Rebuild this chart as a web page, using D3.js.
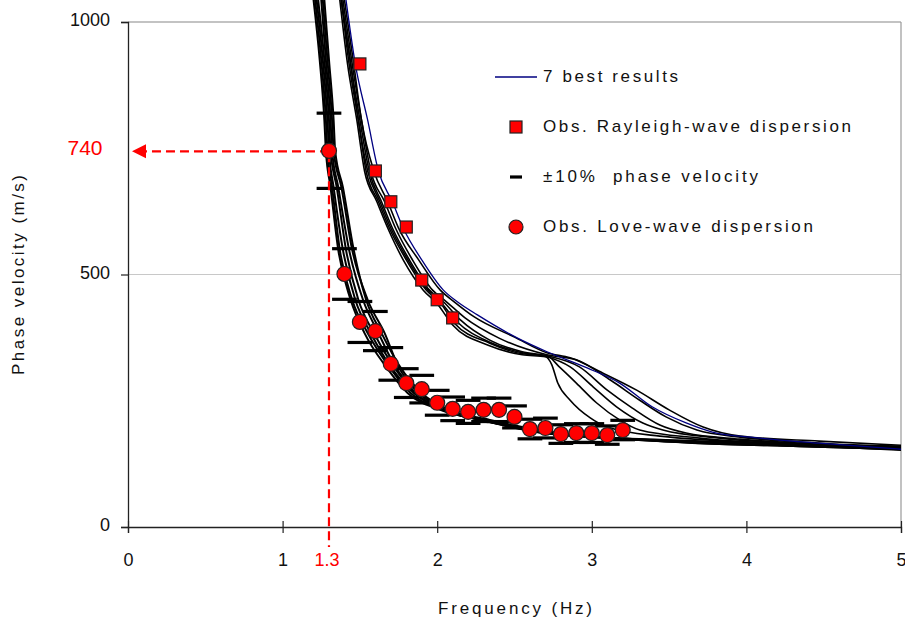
<!DOCTYPE html>
<html>
<head>
<meta charset="utf-8">
<script src="https://cdn.jsdelivr.net/npm/d3@7"></script>
<style>
  body { margin: 0; background: #fff; }
  text { font-family: "Liberation Sans", Arial, sans-serif; fill: #111; white-space: pre; }
</style>
</head>
<body>
<svg id="chart" width="905" height="624"></svg>
<script>
// observed dispersion (Hz, m/s)
const rayleighFreq = [1.5, 1.6, 1.7, 1.8, 1.9, 2.0, 2.1];
const rayleighVel = [917, 705, 644, 594, 489, 450, 414];
const loveFreq = [1.3, 1.4, 1.5, 1.6, 1.7, 1.8, 1.9, 2.0, 2.1, 2.2, 2.3, 2.4, 2.5, 2.6, 2.7, 2.8, 2.9, 3.0, 3.1, 3.2];
const loveVel = [745, 501, 406, 388, 323, 285, 273, 246, 234, 228, 232, 232, 218, 194, 196, 184, 186, 186, 182, 192];

// 7 best results, Rayleigh (last one is the blue curve)
const rayleighCurves = [
  [[1.37,1044],[1.42,917],[1.48,806],[1.53,705],[1.61,644],[1.68,592],[1.78,529],[1.91,469],[2.00,442],[2.10,400],[2.33,360],[2.55,341],[2.70,337],[2.74,322],[2.78,285],[2.86,251],[2.99,216],[3.10,198],[3.44,180],[4.22,166],[5.0,158]],
  [[1.38,1044],[1.43,917],[1.49,806],[1.54,705],[1.62,644],[1.69,592],[1.80,529],[1.93,469],[2.02,444],[2.11,404],[2.34,364],[2.55,343],[2.71,339],[2.79,317],[2.90,285],[3.03,246],[3.18,212],[3.31,192],[3.70,176],[4.47,160],[5.0,152]],
  [[1.38,1044],[1.44,917],[1.49,806],[1.55,705],[1.63,644],[1.70,592],[1.81,529],[1.94,469],[2.02,446],[2.13,406],[2.34,366],[2.55,345],[2.71,337],[2.86,317],[3.01,277],[3.16,238],[3.33,206],[3.46,192],[3.83,176],[4.47,162],[5.0,154]],
  [[1.38,1044],[1.44,917],[1.50,806],[1.56,705],[1.64,644],[1.71,592],[1.82,529],[1.95,469],[2.04,446],[2.15,410],[2.34,370],[2.55,347],[2.71,339],[2.92,317],[3.10,271],[3.26,236],[3.44,202],[3.61,186],[3.96,174],[4.47,164],[5.0,156]],
  [[1.39,1044],[1.45,917],[1.51,806],[1.57,705],[1.66,644],[1.73,592],[1.84,529],[1.97,469],[2.06,446],[2.18,414],[2.40,374],[2.71,341],[2.90,331],[3.12,291],[3.31,251],[3.48,218],[3.68,192],[3.96,178],[4.47,166],[5.0,158]],
  [[1.40,1044],[1.46,917],[1.51,806],[1.59,705],[1.68,644],[1.75,592],[1.88,529],[2.02,469],[2.11,446],[2.24,416],[2.50,376],[2.71,345],[2.86,335],[3.07,305],[3.29,271],[3.50,232],[3.72,198],[3.96,180],[4.47,170],[5.0,162]],
  [[1.41,1044],[1.47,917],[1.55,806],[1.62,705],[1.71,644],[1.78,592],[1.90,529],[2.04,469],[2.13,446],[2.26,420],[2.52,374],[2.71,347],[2.97,315],[3.18,285],[3.39,238],[3.61,206],[3.78,188],[4.09,176],[4.47,166],[5.0,154]]
];

// 7 best results, Love
const loveCurves = [
  [[1.20,1044],[1.24,925],[1.27,806],[1.28,745],[1.31,673],[1.36,549],[1.44,450],[1.53,384],[1.67,317],[1.81,265],[2.02,232],[2.28,212],[2.60,192],[3.05,178],[3.70,170],[4.34,164],[5.0,160]],
  [[1.21,1044],[1.25,925],[1.28,806],[1.29,745],[1.32,673],[1.37,549],[1.45,450],[1.55,384],[1.69,317],[1.83,265],[2.03,232],[2.29,212],[2.61,192],[3.06,178],[3.70,169],[4.34,163],[5.0,158]],
  [[1.22,1044],[1.26,925],[1.29,806],[1.30,745],[1.33,673],[1.39,549],[1.47,450],[1.57,384],[1.70,317],[1.85,265],[2.04,232],[2.30,212],[2.62,190],[3.08,177],[3.70,168],[4.34,162],[5.0,157]],
  [[1.23,1044],[1.27,925],[1.30,806],[1.31,745],[1.35,673],[1.41,549],[1.49,450],[1.59,384],[1.72,317],[1.86,265],[2.05,232],[2.31,210],[2.63,190],[3.09,177],[3.70,168],[4.34,161],[5.0,156]],
  [[1.25,1044],[1.28,925],[1.31,806],[1.32,745],[1.36,673],[1.43,549],[1.52,450],[1.62,384],[1.73,317],[1.88,265],[2.06,230],[2.32,210],[2.64,188],[3.10,176],[3.70,167],[4.34,161],[5.0,155]],
  [[1.26,1044],[1.29,925],[1.32,806],[1.33,745],[1.38,673],[1.45,549],[1.55,450],[1.66,384],[1.75,317],[1.89,265],[2.07,230],[2.33,210],[2.65,188],[3.11,176],[3.70,166],[4.34,160],[5.0,154]],
  [[1.27,1044],[1.30,925],[1.33,806],[1.34,745],[1.39,673],[1.46,549],[1.54,450],[1.64,384],[1.76,317],[1.90,265],[2.08,232],[2.34,212],[2.66,192],[3.12,176],[3.70,166],[4.34,160],[5.0,154]]
];

const xTicks = [0, 1, 2, 3, 4, 5];
const yTicks = [0, 500, 1000];
const pickFreq = 1.3;
const pickVel = 740;
const legendLabels = ["7 best results", "Obs. Rayleigh-wave dispersion", "\u00b110%  phase velocity", "Obs. Love-wave dispersion"];

const svg = d3.select("#chart");
const x = d3.scaleLinear().domain([0, 5]).range([128, 901]);
const y = d3.scaleLinear().domain([0, 1000]).range([527, 22]);

// frame + grid
svg.append("line").attr("x1", x(0)).attr("x2", x(5)).attr("y1", y(500)).attr("y2", y(500))
  .attr("stroke", "#c8c8c8").attr("stroke-width", 1);
svg.append("line").attr("x1", x(0)).attr("x2", x(5)).attr("y1", y(1000)).attr("y2", y(1000))
  .attr("stroke", "#888").attr("stroke-width", 1.2);
svg.append("line").attr("x1", x(5)).attr("x2", x(5)).attr("y1", y(1000)).attr("y2", y(0))
  .attr("stroke", "#999").attr("stroke-width", 1.2);

// axes
const yAxis = svg.append("g").attr("transform", `translate(${x(0)},0)`)
  .call(d3.axisLeft(y).tickValues(yTicks).tickSize(7).tickPadding(11).tickFormat(d3.format("d")));
const xAxis = svg.append("g").attr("transform", `translate(0,${y(0)})`)
  .call(d3.axisBottom(x).tickValues(xTicks).tickSize(6).tickPadding(20).tickFormat(d3.format("d")));
[xAxis, yAxis].forEach(a => {
  a.select(".domain").attr("stroke", "#222").attr("stroke-width", 1.3);
  a.selectAll(".tick line").attr("stroke", "#222").attr("stroke-width", 1.2);
  a.selectAll("text").attr("font-size", 18).attr("fill", "#111")
    .style("font-family", '"Liberation Sans", Arial, sans-serif');
});
xAxis.selectAll(".tick line").attr("y1", -6);
yAxis.selectAll(".tick text").attr("dy", "0.2em");

// curves
const line = d3.line().x(d => x(d[0])).y(d => y(d[1])).curve(d3.curveMonotoneX);
svg.append("g").selectAll("path").data(loveCurves).join("path")
  .attr("d", line).attr("fill", "none").attr("stroke", "#000").attr("stroke-width", 2);
svg.append("g").selectAll("path").data(rayleighCurves).join("path")
  .attr("d", line).attr("fill", "none")
  .attr("stroke", (d, i) => i === rayleighCurves.length - 1 ? "#000080" : "#000")
  .attr("stroke-width", (d, i) => i === rayleighCurves.length - 1 ? 1.3 : 1.6);

// +-10% bars on Love points
const bars = [];
loveFreq.forEach((f, i) => {
  bars.push([f, loveVel[i] * 1.1]);
  bars.push([f, loveVel[i] * 0.9]);
});
svg.append("g").selectAll("line").data(bars).join("line")
  .attr("x1", d => x(d[0] - 0.08)).attr("x2", d => x(d[0] + 0.08))
  .attr("y1", d => y(d[1])).attr("y2", d => y(d[1]))
  .attr("stroke", "#000").attr("stroke-width", 3.2);

// annotation for 1.3 Hz / 740 m/s
svg.append("line").attr("x1", x(pickFreq)).attr("x2", x(pickFreq))
  .attr("y1", y(pickVel)).attr("y2", y(0) + 20)
  .attr("stroke", "#ff0000").attr("stroke-width", 2.2).attr("stroke-dasharray", "9,5");
svg.append("line").attr("x1", x(pickFreq)).attr("x2", x(0) + 14)
  .attr("y1", y(pickVel) - 2).attr("y2", y(pickVel) - 2)
  .attr("stroke", "#ff0000").attr("stroke-width", 2.2).attr("stroke-dasharray", "9,5");
svg.append("path")
  .attr("d", `M${x(0) + 4},${y(pickVel) - 2} l14,-7 l0,14 z`)
  .attr("fill", "#ff0000");
svg.append("text").attr("x", 85).attr("y", y(pickVel) - 6).attr("dy", "0.35em")
  .attr("text-anchor", "middle").attr("font-size", 21).style("fill", "#ff0000").text(pickVel);
svg.append("text").attr("x", x(pickFreq) - 2).attr("y", 566)
  .attr("text-anchor", "middle").attr("font-size", 18).style("fill", "#ff0000").text(pickFreq);

// observed points
svg.append("g").selectAll("rect").data(rayleighFreq).join("rect")
  .attr("x", d => x(d) - 6).attr("y", (d, i) => y(rayleighVel[i]) - 6)
  .attr("width", 12).attr("height", 12)
  .attr("fill", "#ff0000").attr("stroke", "#222").attr("stroke-width", 1.2);
svg.append("g").selectAll("circle").data(loveFreq).join("circle")
  .attr("cx", d => x(d)).attr("cy", (d, i) => y(loveVel[i])).attr("r", 7.5)
  .attr("fill", "#ff0000").attr("stroke", "#222").attr("stroke-width", 1.2);

// legend
const lg = svg.append("g");
lg.append("line").attr("x1", 495).attr("x2", 537).attr("y1", 77).attr("y2", 77)
  .attr("stroke", "#000080").attr("stroke-width", 1.3);
lg.append("rect").attr("x", 510).attr("y", 121).attr("width", 12).attr("height", 12)
  .attr("fill", "#ff0000").attr("stroke", "#222").attr("stroke-width", 1.2);
lg.append("line").attr("x1", 510).attr("x2", 522).attr("y1", 177).attr("y2", 177)
  .attr("stroke", "#000").attr("stroke-width", 3.2);
lg.append("circle").attr("cx", 516).attr("cy", 227).attr("r", 7)
  .attr("fill", "#ff0000").attr("stroke", "#222").attr("stroke-width", 1.2);
const legendWidths = [135, 308, 215, 270];
lg.selectAll("text.lab").data(legendLabels).join("text").attr("class", "lab")
  .attr("x", 543).attr("y", (d, i) => 76 + i * 50).attr("dy", "0.35em")
  .attr("font-size", 17).attr("textLength", (d, i) => legendWidths[i])
  .attr("lengthAdjust", "spacing").text(d => d);

// axis titles
svg.append("text").attr("transform", "translate(24,275) rotate(-90)")
  .attr("text-anchor", "middle").attr("font-size", 17)
  .attr("textLength", 200).attr("lengthAdjust", "spacing").text("Phase velocity (m/s)");
svg.append("text").attr("x", 515).attr("y", 614)
  .attr("text-anchor", "middle").attr("font-size", 17)
  .attr("textLength", 154).attr("lengthAdjust", "spacing").text("Frequency (Hz)");
</script>
</body>
</html>
